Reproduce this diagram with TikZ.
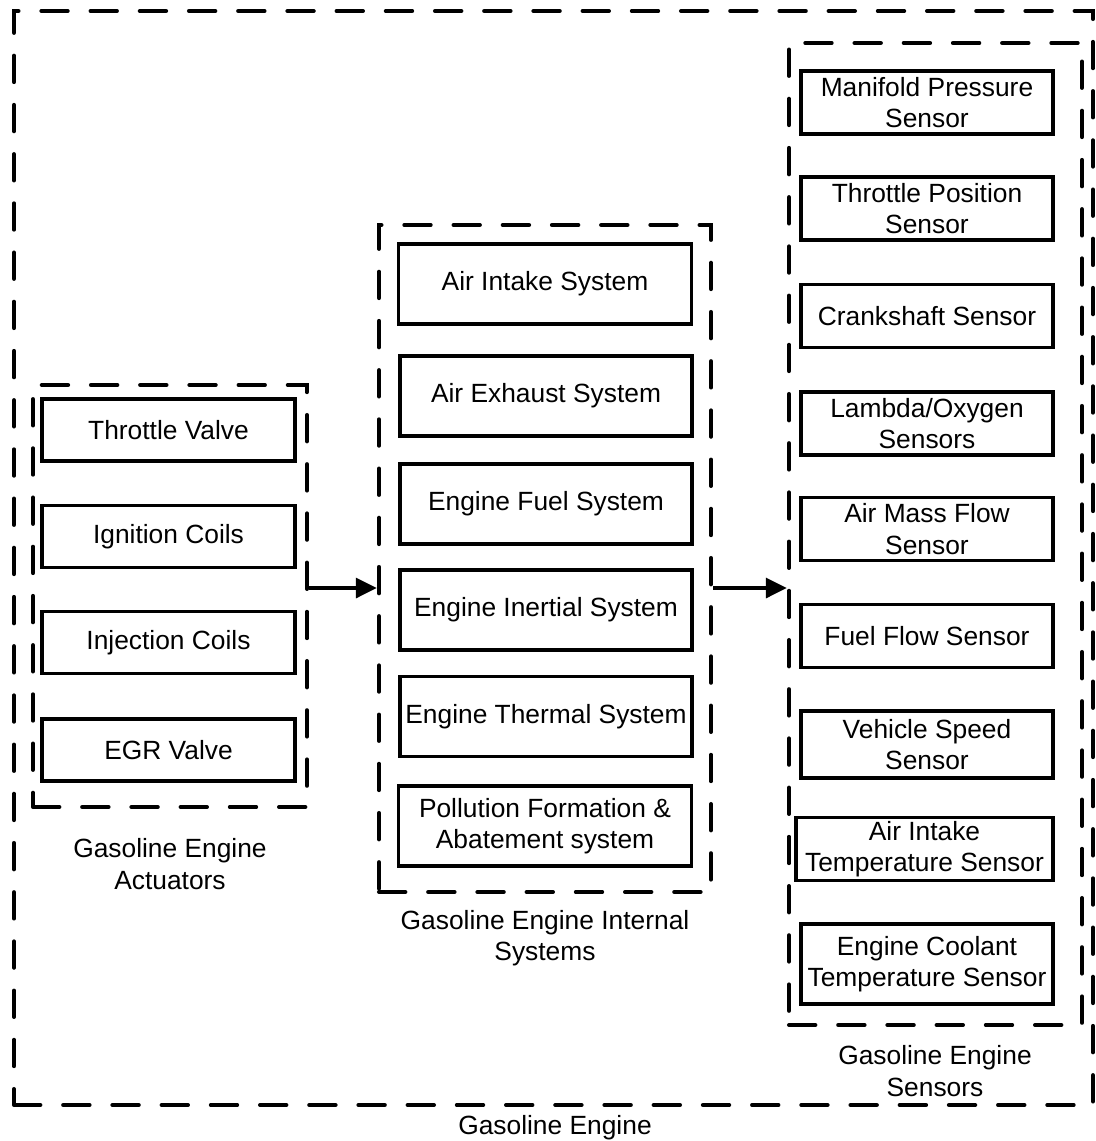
\documentclass[tikz,border=0pt]{standalone}
\usepackage{fontspec}
\setmainfont{Liberation Sans}
\usepackage{tikz}
\usetikzlibrary{arrows.meta,positioning,calc}
\usepackage{xcolor}
\definecolor{cLine}{RGB}{0,0,0}
\tikzset{
  basebox/.style={rectangle,draw=cLine,align=center,
                  font=\fontsize{15pt}{18pt}\selectfont,inner sep=1pt},
  actnode/.style={basebox,line width=2.1pt,minimum width=5.06cm,minimum height=1.24cm},
  sysnode/.style={basebox,line width=2.1pt,minimum width=5.86cm,minimum height=1.6cm},
  sennode/.style={basebox,line width=2.1pt,minimum width=5.04cm,minimum height=1.26cm},
  grpbox/.style={rectangle,draw=cLine,line width=2.3pt,line cap=round,
                 dash pattern=on 15pt off 13pt},
  grplabel/.style={align=center,font=\fontsize{15pt}{18pt}\selectfont},
  thkarr/.style={-{Triangle[length=12pt,width=11pt]},line width=2.8pt,color=cLine}
}
\begin{document}
\begin{tikzpicture}
  \useasboundingbox (0,0) rectangle (21.92,-22.82);
  % dashed groups
  \node[grpbox,minimum width=21.58cm,minimum height=21.88cm] (enggrp) at (11.07,-11.16) {};
  \node[grpbox,minimum width=5.48cm,minimum height=8.44cm] (actgrp) at (3.4,-11.92) {};
  \node[grpbox,minimum width=6.64cm,minimum height=13.34cm] (intgrp) at (10.9,-11.17) {};
  \node[grpbox,minimum width=5.86cm,minimum height=19.64cm] (sengrp) at (18.71,-10.68) {};
  % actuators
  \node[actnode] (throttle) at (3.37,-8.6) {Throttle Valve};
  \node[actnode] (ignition) at (3.37,-10.73) {Ignition Coils};
  \node[actnode] (injection) at (3.37,-12.85) {Injection Coils};
  \node[actnode] (egr) at (3.37,-15.0) {EGR Valve};
  % internal systems
  \node[sysnode] (intake) at (10.9,-5.68) {Air Intake System};
  \node[sysnode,minimum width=5.84cm] (exhaust) at (10.92,-7.92) {Air Exhaust System};
  \node[sysnode,minimum width=5.84cm] (fuelsys) at (10.92,-10.08) {Engine Fuel System};
  \node[sysnode,minimum width=5.84cm] (inertial) at (10.92,-12.2) {Engine Inertial System};
  \node[sysnode,minimum width=5.84cm] (thermal) at (10.92,-14.33) {Engine Thermal System};
  \node[sysnode] (pollution) at (10.9,-16.52) {Pollution Formation \&\\Abatement system};
  % sensors
  \node[sennode] (manifold) at (18.54,-2.05) {Manifold Pressure\\Sensor};
  \node[sennode] (tps) at (18.54,-4.17) {Throttle Position\\Sensor};
  \node[sennode] (crank) at (18.54,-6.32) {Crankshaft Sensor};
  \node[sennode] (lambda) at (18.54,-8.47) {Lambda/Oxygen\\Sensors};
  \node[sennode] (maf) at (18.54,-10.58) {Air Mass Flow\\Sensor};
  \node[sennode] (fuelflow) at (18.54,-12.72) {Fuel Flow Sensor};
  \node[sennode,minimum height=1.34cm] (speed) at (18.54,-14.89) {Vehicle Speed\\Sensor};
  \node[sennode,minimum width=5.14cm] (iat) at (18.49,-16.98) {Air Intake\\Temperature Sensor};
  \node[sennode,minimum height=1.6cm] (coolant) at (18.54,-19.28) {Engine Coolant\\Temperature Sensor};
  % group labels
  \node[grplabel] (actlbl) at (3.4,-17.28) {Gasoline Engine\\Actuators};
  \node[grplabel] (intlbl) at (10.9,-18.76) {Gasoline Engine Internal\\Systems};
  \node[grplabel] (senlbl) at (18.7,-21.42) {Gasoline Engine\\Sensors};
  \node[grplabel] (englbl) at (11.1,-22.56) {Gasoline Engine};
  % flow arrows
  \coordinate (midrow) at (0,-11.76);
  \draw[thkarr] (actgrp.east |- midrow) -- (intgrp.west |- midrow);
  \draw[thkarr] (intgrp.east |- midrow) -- (sengrp.west |- midrow);
\end{tikzpicture}
\end{document}
